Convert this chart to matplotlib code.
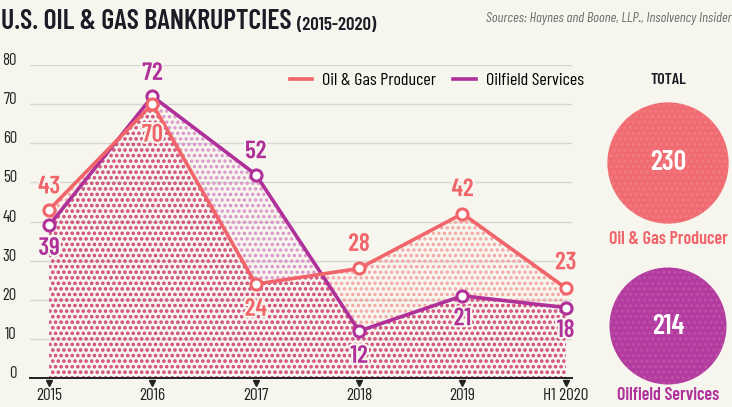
import matplotlib
matplotlib.use("Agg")
import matplotlib.pyplot as plt
import matplotlib.transforms as mtransforms
import matplotlib.patheffects as pe
from matplotlib.patches import Circle
from matplotlib.lines import Line2D
import numpy as np

# data
years = ["2015", "2016", "2017", "2018", "2019", "H1 2020"]
producer = [43, 70, 24, 28, 42, 23]
services = [39, 72, 52, 12, 21, 18]
series_names = ["Oil & Gas Producer", "Oilfield Services"]
totals = [230, 214]
yticks = [0, 10, 20, 30, 40, 50, 60, 70, 80]

# label side: + above, - below (scaled offset)
producer_side = [1, -1.35, -1.1, 1.05, 1.05, 1.1]
services_side = [-1, 1, 1, -1.1, -1, -1]

BG = "#f7f6ee"
C_PROD = "#f0646a"
C_SERV = "#b0309a"
DOT_PROD = "#f5a3a2"
DOT_SERV = "#d991c9"
DOT_BOTH = "#d4527c"
DARK = "#1e1b26"
FONT = ["Barlow Condensed", "DejaVu Sans"]

plt.rcParams["font.family"] = FONT
plt.rcParams["hatch.linewidth"] = 1.6

fig = plt.figure(figsize=(7.32, 4.07), dpi=100, facecolor=BG)
W, H = 732, 407

ax = fig.add_axes([30 / W, (H - 378) / H, 542 / W, (378 - 65) / H])
ax.set_facecolor(BG)
x = np.arange(len(years))

ax.set_xlim(-0.185, 5.06)
ax.set_ylim(0, 80)

# gridlines
ax.set_yticks(yticks)
ax.yaxis.grid(True, color="#d6d6d2", lw=1)
ax.set_axisbelow(True)
for s in ["top", "right", "left"]:
    ax.spines[s].set_visible(False)
ax.spines["bottom"].set_color("#222222")
ax.spines["bottom"].set_linewidth(1.4)

ax.tick_params(axis="y", length=0, pad=9.5, labelsize=12, labelcolor="#222222")
for lab in ax.get_yticklabels():
    lab.set_verticalalignment("baseline")

ax.set_xticks(x, years)
ax.tick_params(axis="x", length=0, pad=7, labelsize=12.5, labelcolor="#222222")

# little triangle ticks under the axis
tri = mtransforms.offset_copy(ax.transData, fig=fig, x=0, y=-3.5, units="points")
ax.plot(x, np.zeros(len(x)), "v", color="#222222", ms=5, transform=tri, clip_on=False, zorder=5)

# dotted fills: light where one series only, dark where both overlap
ax.fill_between(x, 0, producer, facecolor="none", edgecolor=DOT_PROD, hatch="...",
                lw=0, zorder=1)
serv_fill = ax.fill_between(x, 0, services, facecolor="none", edgecolor=DOT_SERV,
                            hatch="...", lw=0, zorder=1)
both = ax.fill_between(x, 0, producer, facecolor="none", edgecolor=DOT_BOTH,
                       hatch="...", lw=0, zorder=1.5)
both.set_clip_path(serv_fill.get_paths()[0], ax.transData)

# lines
ax.plot(x, producer, color=C_PROD, lw=2.6, marker="o", ms=8, mfc="white",
        mec=C_PROD, mew=2.2, zorder=4, clip_on=False)
ax.plot(x, services, color=C_SERV, lw=2.6, marker="o", ms=8, mfc="white",
        mec=C_SERV, mew=2.2, zorder=3, clip_on=False)

halo = [pe.withStroke(linewidth=3, foreground=BG)]
for xi, v, s in zip(x, producer, producer_side):
    ax.annotate(str(v), (xi, v), xytext=(0, 16.5 * s), textcoords="offset points",
                ha="center", va="center", color=C_PROD, fontsize=18,
                fontweight="semibold", zorder=6, path_effects=halo)
for xi, v, s in zip(x, services, services_side):
    ax.annotate(str(v), (xi, v), xytext=(0, 16.5 * s), textcoords="offset points",
                ha="center", va="center", color=C_SERV, fontsize=18,
                fontweight="semibold", zorder=6, path_effects=halo)

handles = [Line2D([], [], color=C_PROD, lw=2.6), Line2D([], [], color=C_SERV, lw=2.6)]
ax.legend(handles, series_names, loc="center right", bbox_to_anchor=(1.022, 0.952),
          borderaxespad=0, borderpad=0, ncol=2, frameon=False, fontsize=13,
          handlelength=1.25, columnspacing=0.95, handletextpad=0.55)

# title
t = fig.text(1 / W, 1 - 29 / H, "U.S. OIL & GAS BANKRUPTCIES", fontsize=20,
             fontweight="semibold", color=DARK, va="baseline", ha="left")
ax.annotate("(2015-2020)", xy=(1, 0), xycoords=t, xytext=(4, 0),
            textcoords="offset points", fontsize=13.5, fontweight="semibold",
            color=DARK, va="bottom", ha="left", annotation_clip=False)
fig.text(1.0, 1 - 22 / H, "Sources: Haynes and Boone, LLP., Insolvency Insider",
         fontsize=10.3, style="italic", color="#6b6b6b", ha="right", va="baseline")

# totals panel
ax2 = fig.add_axes([590 / W, 0, 142 / W, 1])
ax2.set_xlim(590, 732)
ax2.set_ylim(H, 0)
ax2.set_aspect("equal")
ax2.axis("off")
ax2.text(668, 80, "TOTAL", ha="center", va="center", fontsize=11.5,
         fontweight="semibold", color=DARK)
centers = [(668, 163), (668, 326)]
colors = [C_PROD, C_SERV]
label_y = [240, 396]
for (cx, cy), tot, c, name, ly in zip(centers, totals, colors, series_names, label_y):
    r = 4.0 * np.sqrt(tot)
    ax2.add_patch(Circle((cx, cy), r, facecolor=c, edgecolor="none", alpha=0.95))
    ax2.add_patch(Circle((cx, cy), r, facecolor="none", edgecolor="#ffffff",
                         hatch="...", lw=0, alpha=0.1))
    ax2.text(cx, cy, str(tot), ha="center", va="center", fontsize=20,
             fontweight="semibold", color="white")
    ax2.text(cx, ly, name, ha="center", va="center", fontsize=13,
             fontweight="semibold", color=c)

fig.savefig("out.png", dpi=100, facecolor=BG)
